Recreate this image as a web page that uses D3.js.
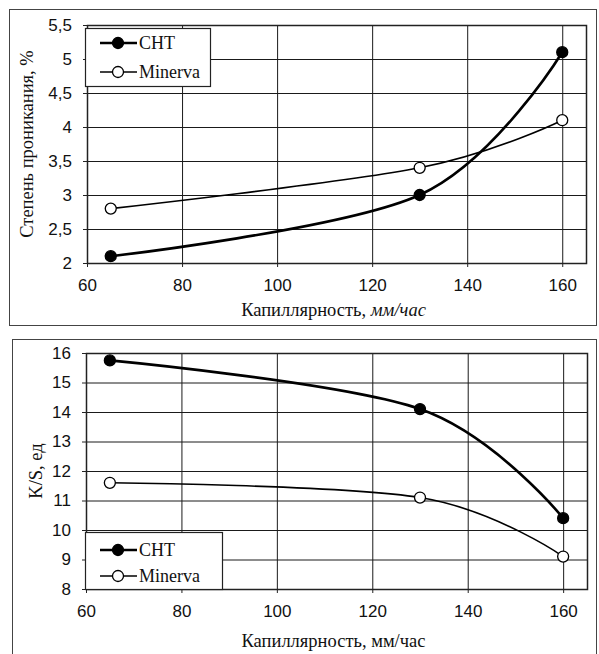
<!DOCTYPE html>
<html>
<head>
<meta charset="utf-8">
<script src="https://cdn.jsdelivr.net/npm/d3@7/dist/d3.min.js"></script>
<style>
  body { margin: 0; background: #fff; }
</style>
</head>
<body>
<script>
// Данные: капиллярность, мм/час
const capillarity = [65, 130, 160];
// Степень проникания, %
const penetrationCHT = [2.1, 3.0, 5.1];
const penetrationMinerva = [2.8, 3.4, 4.1];
// K/S, ед
const ksCHT = [15.75, 14.1, 10.4];
const ksMinerva = [11.6, 11.1, 9.1];
// Подписи делений
const xTicks = [60, 80, 100, 120, 140, 160];
const yTicksTop = [2, 2.5, 3, 3.5, 4, 4.5, 5, 5.5];
const yTicksBottom = [8, 9, 10, 11, 12, 13, 14, 15, 16];
const seriesNames = ["CHT", "Minerva"];

const fuenteSans = "'Liberation Sans', Arial, sans-serif";
const fuenteSerif = "'Liberation Serif', 'Times New Roman', serif";

const svg = d3.select("body").append("svg")
    .attr("width", 599)
    .attr("height", 654);

//Рамки вокруг графиков
svg.append("rect").attr("x", 9.5).attr("y", 9.5).attr("width", 587).attr("height", 316)
    .attr("fill", "none").attr("stroke", "#444");
svg.append("rect").attr("x", 12.5).attr("y", 339.5).attr("width", 584).attr("height", 330)
    .attr("fill", "none").attr("stroke", "#444");

//Генерирует один график
function getGrafica(cfg) {
    var x = d3.scaleLinear().domain([60, 165]).range([cfg.left, cfg.right]);
    var y = d3.scaleLinear().domain(cfg.yDomain).range([cfg.bottom, cfg.top]);
    var g = svg.append("g");
    var w = cfg.right - cfg.left;
    var h = cfg.bottom - cfg.top;

    //Сетка (через оси с отрицательной длиной делений)
    var gridY = g.append("g").attr("transform", "translate(" + cfg.left + ",0)")
        .call(d3.axisLeft(y).tickValues(cfg.yTicks).tickSize(-w).tickFormat(""));
    var gridX = g.append("g").attr("transform", "translate(0," + cfg.bottom + ")")
        .call(d3.axisBottom(x).tickValues(xTicks).tickSize(-h).tickFormat(""));
    [gridX, gridY].forEach(function(a) {
        a.select(".domain").remove();
        a.selectAll(".tick line").attr("stroke", "#1a1a1a").attr("stroke-width", 1);
    });

    //Рамка области построения
    g.append("rect")
        .attr("x", cfg.left + 0.5).attr("y", cfg.top + 0.5)
        .attr("width", w).attr("height", h)
        .attr("fill", "none").attr("stroke", "#222").attr("stroke-width", 1.5);

    //Оси
    var xAxis = d3.axisBottom(x).tickValues(xTicks).tickSize(4).tickPadding(12);
    var gx = g.append("g").attr("transform", "translate(0," + cfg.bottom + ")").call(xAxis);
    var yAxis = d3.axisLeft(y).tickValues(cfg.yTicks).tickSize(4).tickPadding(11)
        .tickFormat(d => String(d).replace(".", ","));
    var gy = g.append("g").attr("transform", "translate(" + cfg.left + ",0)").call(yAxis);
    [gx, gy].forEach(function(a) {
        a.select(".domain").remove();
        a.attr("font-family", fuenteSans).attr("font-size", 17);
        a.selectAll(".tick line").attr("stroke", "#222");
        a.selectAll(".tick text").attr("fill", "#111");
    });

    //Линии
    var linea = d3.line()
        .x(d => x(d[0]))
        .y(d => y(d[1]))
        .curve(d3.curveCardinal.tension(0));
    var series = [
        {vals: cfg.cht, width: 2.6, fill: "#000"},
        {vals: cfg.minerva, width: 1.6, fill: "#fff"}
    ];
    series.forEach(function(s) {
        var pts = capillarity.map((c, i) => [c, s.vals[i]]);
        g.append("path").datum(pts)
            .attr("fill", "none").attr("stroke", "#000")
            .attr("stroke-width", s.width).attr("d", linea);
        g.selectAll(null).data(pts).enter().append("circle")
            .attr("cx", d => x(d[0])).attr("cy", d => y(d[1])).attr("r", 5.5)
            .attr("fill", s.fill).attr("stroke", "#000").attr("stroke-width", 1.3);
    });

    //Подписи осей
    var xl = g.append("text")
        .attr("font-family", fuenteSerif).attr("font-size", 18.5).attr("fill", "#111")
        .attr("x", (cfg.left + cfg.right) / 2 - 3).attr("y", cfg.xLabelY)
        .attr("text-anchor", "middle");
    xl.append("tspan").text("Капиллярность, ");
    xl.append("tspan").text("мм/час").attr("font-style", cfg.italic ? "italic" : "normal");

    g.append("text")
        .attr("font-family", fuenteSerif).attr("font-size", 18.5).attr("fill", "#111")
        .attr("transform", "translate(" + cfg.yLabelX + "," + ((cfg.top + cfg.bottom) / 2) + ") rotate(-90)")
        .attr("text-anchor", "middle")
        .text(cfg.yLabel);

    //Легенда
    var lg = g.append("g").attr("transform", "translate(" + cfg.legend[0] + "," + cfg.legend[1] + ")");
    lg.append("rect").attr("x", 0.5).attr("y", 0.5)
        .attr("width", cfg.legend[2]).attr("height", cfg.legend[3])
        .attr("fill", "#fff").attr("stroke", "#222").attr("stroke-width", 1.2);
    series.forEach(function(s, i) {
        var yy = cfg.legendRows[i];
        lg.append("line").attr("x1", 15).attr("x2", 52).attr("y1", yy).attr("y2", yy)
            .attr("stroke", "#000").attr("stroke-width", s.width);
        lg.append("circle").attr("cx", 33).attr("cy", yy).attr("r", 5.5)
            .attr("fill", s.fill).attr("stroke", "#000").attr("stroke-width", 1.3);
        lg.append("text")
            .attr("font-family", fuenteSerif).attr("font-size", 18).attr("fill", "#111")
            .attr("x", 54).attr("y", yy + 6)
            .text(seriesNames[i]);
    });
}

getGrafica({
    left: 87, right: 586, top: 25, bottom: 263,
    yDomain: [2, 5.5], yTicks: yTicksTop,
    cht: penetrationCHT, minerva: penetrationMinerva,
    xLabelY: 316, italic: true,
    yLabel: "Степень проникания, %", yLabelX: 33,
    legend: [85, 28, 125, 58], legendRows: [15, 44]
});

getGrafica({
    left: 86, right: 587, top: 353, bottom: 589,
    yDomain: [8, 16], yTicks: yTicksBottom,
    cht: ksCHT, minerva: ksMinerva,
    xLabelY: 647, italic: false,
    yLabel: "K/S, ед", yLabelX: 42,
    legend: [85, 532, 137, 57], legendRows: [18, 44]
});
</script>
</body>
</html>
